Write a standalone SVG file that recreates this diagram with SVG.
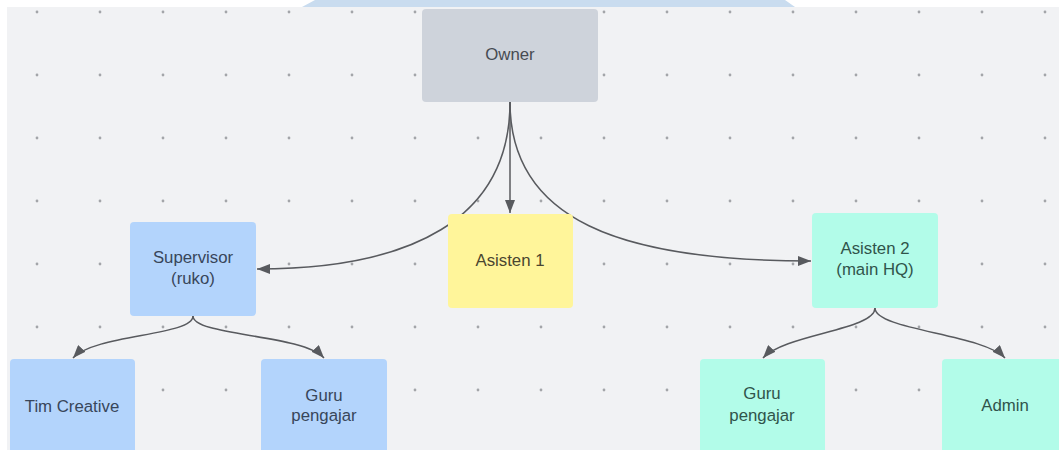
<svg xmlns="http://www.w3.org/2000/svg" width="1059" height="450" viewBox="0 0 1059 450">
  <defs>
    <pattern id="dots" x="0" y="0" width="63" height="63" patternUnits="userSpaceOnUse">
      <circle cx="37" cy="12" r="1.4" fill="#a3a5a9"/>
    </pattern>
    <marker id="arrow" viewBox="0 0 13 10" refX="13" refY="5" markerWidth="13" markerHeight="10" markerUnits="userSpaceOnUse" orient="auto">
      <path d="M0,0 L13,5 L0,10 Z" fill="#585a5e"/>
    </marker>
    <style>
      .box { stroke: none; }
      .gray { fill: #ced3db; }
      .blue { fill: #b3d4fc; }
      .yellow { fill: #fff59a; }
      .teal { fill: #b2fce9; }
      .lbl { font-family: "Liberation Sans", Arial, sans-serif; font-size: 16.8px; text-anchor: middle; fill: #38465a; }
      .lbl-teal { fill: #30544b; }
      .lbl-yellow { fill: #4a4630; }
      .lbl-gray { fill: #474b52; }
      .edge { fill: none; stroke: #585a5e; stroke-width: 1.5; marker-end: url(#arrow); }
    </style>
  </defs>

  <!-- page margin and canvas -->
  <rect x="0" y="0" width="1059" height="450" fill="#ffffff"/>
  <rect x="7" y="7" width="1052" height="443" fill="#f1f2f4"/>
  <rect x="7" y="7" width="1052" height="443" fill="url(#dots)"/>
  <polygon points="315,0 785,0 795,7 302,7" fill="#c9dcef"/>

  <!-- connectors -->
  <g id="connectors">
    <path class="edge" d="M510,102 L510,213"/>
    <path class="edge" d="M510,102 C510,220 410,269 257,269"/>
    <path class="edge" d="M510,102 C510,220 620,261 811,261"/>
    <path class="edge" d="M193,316 C193,336 95,334 73,358"/>
    <path class="edge" d="M193,316 C193,336 302,334 324,358"/>
    <path class="edge" d="M875,308 C875,330 785,334 763,358"/>
    <path class="edge" d="M875,308 C875,330 983,334 1005,358"/>
  </g>

  <g id="owner">
    <rect class="box gray" x="422" y="9" width="176" height="93" rx="4"/>
    <text class="lbl lbl-gray" x="510" y="60">Owner</text>
  </g>

  <g id="supervisor">
    <rect class="box blue" x="130" y="222" width="126" height="94" rx="4"/>
    <text class="lbl" x="193" y="263">Supervisor</text>
    <text class="lbl" x="193" y="284">(ruko)</text>
  </g>

  <g id="asisten1">
    <rect class="box yellow" x="448" y="214" width="125" height="94" rx="4"/>
    <text class="lbl lbl-yellow" x="510" y="266">Asisten 1</text>
  </g>

  <g id="asisten2">
    <rect class="box teal" x="812" y="213" width="126" height="95" rx="4"/>
    <text class="lbl lbl-teal" x="875" y="254">Asisten 2</text>
    <text class="lbl lbl-teal" x="875" y="275">(main HQ)</text>
  </g>

  <g id="tim-creative">
    <rect class="box blue" x="10" y="359" width="125" height="95" rx="4"/>
    <text class="lbl" x="72" y="412">Tim Creative</text>
  </g>

  <g id="guru-pengajar-ruko">
    <rect class="box blue" x="261" y="359" width="126" height="95" rx="4"/>
    <text class="lbl" x="324" y="401">Guru</text>
    <text class="lbl" x="324" y="421">pengajar</text>
  </g>

  <g id="guru-pengajar-hq">
    <rect class="box teal" x="700" y="359" width="125" height="95" rx="4"/>
    <text class="lbl lbl-teal" x="762" y="399">Guru</text>
    <text class="lbl lbl-teal" x="762" y="421">pengajar</text>
  </g>

  <g id="admin">
    <rect class="box teal" x="942" y="359" width="126" height="95" rx="4"/>
    <text class="lbl lbl-teal" x="1005" y="411">Admin</text>
  </g>
</svg>
